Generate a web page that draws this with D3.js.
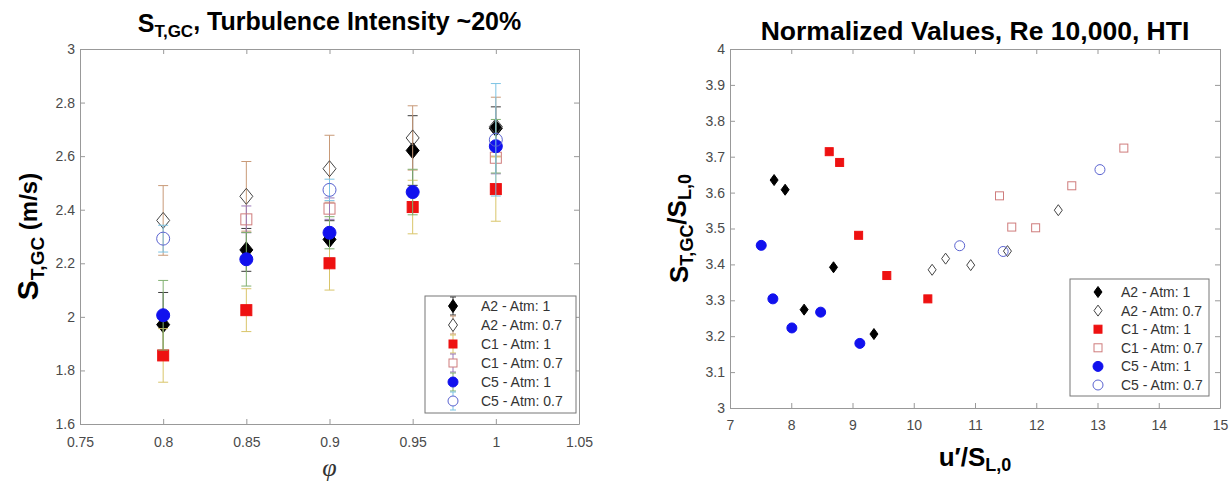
<html>
<script src="https://d3js.org/d3.v7.min.js"></script>
<body style="margin:0;background:#fff;">
<div id="chart"></div>
<script>
// ---- data: left panel (S_T,GC vs phi, with error bars) ----
const phi = [0.8, 0.85, 0.9, 0.95, 1.0];
const seriesNames = ["A2 - Atm: 1", "A2 - Atm: 0.7", "C1 - Atm: 1", "C1 - Atm: 0.7", "C5 - Atm: 1", "C5 - Atm: 0.7"];

const a2Atm1 = [1.971, 2.250, 2.289, 2.621, 2.704];
const a2Atm07 = [2.360, 2.450, 2.553, 2.668, 2.710];
const c1Atm1 = [1.856, 2.025, 2.200, 2.410, 2.477];
const c1Atm07 = [null, 2.364, 2.404, null, 2.594];
const c5Atm1 = [2.006, 2.215, 2.314, 2.466, 2.637];
const c5Atm07 = [2.292, null, 2.474, null, 2.661];

const a2Atm1Err = [0.12, 0.08, 0.07, 0.13, 0.08];
const a2Atm07Err = [0.13, 0.13, 0.125, 0.12, 0.11];
const c1Atm1Err = [0.10, 0.08, 0.10, 0.10, 0.12];
const c1Atm07Err = [null, 0.05, 0.04, null, 0.06];
const c5Atm1Err = [0.13, 0.10, 0.06, 0.085, 0.10];
const c5Atm07Err = [0.05, null, 0.04, null, 0.21];

// ---- data: right panel (normalized) ----
const rA2Atm1X = [7.72, 7.90, 8.21, 8.69, 9.35];
const rA2Atm1Y = [3.635, 3.608, 3.274, 3.392, 3.206];
const rA2Atm07X = [10.30, 10.52, 10.93, 11.53, 12.36];
const rA2Atm07Y = [3.385, 3.416, 3.398, 3.437, 3.551];
const rC1Atm1X = [8.62, 8.79, 9.10, 9.56, 10.23];
const rC1Atm1Y = [3.714, 3.684, 3.481, 3.369, 3.304];
const rC1Atm07X = [11.40, 11.60, 11.99, 12.58, 13.43];
const rC1Atm07Y = [3.591, 3.504, 3.502, 3.619, 3.724];
const rC5Atm1X = [7.51, 7.70, 8.01, 8.48, 9.12];
const rC5Atm1Y = [3.453, 3.304, 3.223, 3.267, 3.180];
const rC5Atm07X = [10.75, 11.46, 13.04];
const rC5Atm07Y = [3.452, 3.436, 3.664];

// tick labels
const leftXTicks = [0.75, 0.8, 0.85, 0.9, 0.95, 1, 1.05];
const leftYTicks = [1.6, 1.8, 2, 2.2, 2.4, 2.6, 2.8, 3];
const rightXTicks = [7, 8, 9, 10, 11, 12, 13, 14, 15];
const rightYTicks = [3, 3.1, 3.2, 3.3, 3.4, 3.5, 3.6, 3.7, 3.8, 3.9, 4];

// marker styles per series (same order as seriesNames)
const styles = [
    {shape: "diamond", fill: "#000", stroke: "#000", bar: "#3a3a3a"},
    {shape: "diamond", fill: "none", stroke: "#444", bar: "#c89a78"},
    {shape: "square", fill: "#ee1111", stroke: "#ee1111", bar: "#d9c56a"},
    {shape: "square", fill: "none", stroke: "#cf7c7c", bar: "#9a78b8"},
    {shape: "circle", fill: "#1111ee", stroke: "#1111ee", bar: "#80b070"},
    {shape: "circle", fill: "none", stroke: "#5a63d0", bar: "#7cc4e4"}
];

const fontMain = "'Liberation Sans', Arial, Helvetica, sans-serif";
const axisColor = "#999";
const tickText = "#4a4a4a";

let svg = d3.select("#chart").append("svg")
    .attr("width", 1232).attr("height", 483)
    .style("font-family", fontMain);

// draw one marker centred at 0,0
function marker(g, shape, w, h, fill, stroke) {
    if (shape === "diamond") {
        g.append("path")
            .attr("d", `M0,${-h / 2}L${w / 2},0L0,${h / 2}L${-w / 2},0Z`)
            .attr("fill", fill).attr("stroke", stroke).attr("stroke-width", 1);
    } else if (shape === "square") {
        g.append("rect")
            .attr("x", -w / 2).attr("y", -w / 2).attr("width", w).attr("height", w)
            .attr("fill", fill).attr("stroke", stroke).attr("stroke-width", 1);
    } else {
        g.append("circle")
            .attr("r", w / 2)
            .attr("fill", fill).attr("stroke", stroke).attr("stroke-width", 1);
    }
}

// frame with inward ticks on all four sides
function frame(f, x, y, xTicks, yTicks, xPad) {
    let fmt = d => String(+d.toFixed(2));
    let g = svg.append("g");
    let style = sel => {
        sel.selectAll("path, line").attr("stroke", axisColor);
        sel.selectAll("text").attr("fill", tickText).style("font-size", "14px").style("font-family", fontMain);
    };
    g.append("g").attr("transform", `translate(0,${f.bottom})`)
        .call(d3.axisBottom(x).tickValues(xTicks).tickFormat(fmt).tickSizeInner(-5).tickSizeOuter(0).tickPadding(xPad))
        .call(style);
    g.append("g").attr("transform", `translate(0,${f.top})`)
        .call(d3.axisTop(x).tickValues(xTicks).tickFormat("").tickSizeInner(-5).tickSizeOuter(0))
        .call(style);
    g.append("g").attr("transform", `translate(${f.left},0)`)
        .call(d3.axisLeft(y).tickValues(yTicks).tickFormat(fmt).tickSizeInner(-5).tickSizeOuter(0).tickPadding(5))
        .call(style);
    g.append("g").attr("transform", `translate(${f.right},0)`)
        .call(d3.axisRight(y).tickValues(yTicks).tickFormat("").tickSizeInner(-5).tickSizeOuter(0))
        .call(style);
    g.selectAll(".domain").attr("stroke", axisColor);
}

function legendBox(box, rowY, rowGap, markerX, textX, withBars, sz) {
    let g = svg.append("g");
    g.append("rect")
        .attr("x", box.x).attr("y", box.y).attr("width", box.w).attr("height", box.h)
        .attr("fill", "#fff").attr("stroke", "#777").attr("stroke-width", 1);
    seriesNames.forEach((name, i) => {
        let cy = rowY + i * rowGap;
        let s = styles[i];
        let m = g.append("g").attr("transform", `translate(${markerX},${cy})`);
        if (withBars) {
            m.append("line").attr("y1", -9).attr("y2", 9).attr("stroke", s.bar);
            m.append("line").attr("x1", -3).attr("x2", 3).attr("y1", -9).attr("y2", -9).attr("stroke", s.bar);
            m.append("line").attr("x1", -3).attr("x2", 3).attr("y1", 9).attr("y2", 9).attr("stroke", s.bar);
        }
        marker(m, s.shape, sz[s.shape][0], sz[s.shape][1], s.fill === "none" ? "#fff" : s.fill, s.stroke);
        g.append("text").attr("x", textX).attr("y", cy + 5)
            .attr("fill", "#333").style("font-size", "14px").text(name);
    });
}

// ================= left panel =================
let fL = {left: 80, right: 579, top: 49, bottom: 424};
let xL = d3.scaleLinear().domain([0.75, 1.05]).range([fL.left, fL.right]);
let yL = d3.scaleLinear().domain([1.6, 3]).range([fL.bottom, fL.top]);
frame(fL, xL, yL, leftXTicks, leftYTicks, 13);

let leftValues = [a2Atm1, a2Atm07, c1Atm1, c1Atm07, c5Atm1, c5Atm07];
let leftErrs = [a2Atm1Err, a2Atm07Err, c1Atm1Err, c1Atm07Err, c5Atm1Err, c5Atm07Err];
let bigSize = {diamond: [13, 16], square: [11, 11], circle: [13, 13]};

leftValues.forEach((vals, si) => {
    let s = styles[si];
    let pts = phi.map((p, i) => ({p: p, v: vals[i], e: leftErrs[si][i]})).filter(d => d.v != null);
    let g = svg.append("g");
    pts.forEach(d => {
        let cx = xL(d.p);
        g.append("line").attr("x1", cx).attr("x2", cx)
            .attr("y1", yL(d.v - d.e)).attr("y2", yL(d.v + d.e)).attr("stroke", s.bar);
        [d.v - d.e, d.v + d.e].forEach(v => {
            g.append("line").attr("x1", cx - 5).attr("x2", cx + 5)
                .attr("y1", yL(v)).attr("y2", yL(v)).attr("stroke", s.bar);
        });
    });
    pts.forEach(d => {
        let m = g.append("g").attr("transform", `translate(${xL(d.p)},${yL(d.v)})`);
        marker(m, s.shape, bigSize[s.shape][0], bigSize[s.shape][1], s.fill, s.stroke);
    });
});

legendBox({x: 425, y: 296, w: 151, h: 117}, 306, 19, 453, 481, true,
    {diamond: [9, 13], square: [8, 8], circle: [10, 10]});

// title
let tL = svg.append("text").attr("x", (fL.left + fL.right) / 2).attr("y", 32)
    .attr("text-anchor", "middle").style("font-size", "25px").style("font-weight", "bold");
tL.append("tspan").text("S");
tL.append("tspan").attr("dy", "0.3em").style("font-size", "17px").text("T,GC");
tL.append("tspan").attr("dy", "-0.3em").text(", Turbulence Intensity ~20%");

// y label
let yl = svg.append("text")
    .attr("transform", `translate(38,${(fL.top + fL.bottom) / 2}) rotate(-90)`)
    .attr("text-anchor", "middle").style("font-size", "24px").style("font-weight", "bold");
yl.append("tspan").style("font-size", "30px").text("S");
yl.append("tspan").attr("dy", "0.3em").style("font-size", "19px").text("T,GC");
yl.append("tspan").attr("dy", "-0.3em").text(" (m/s)");

// x label
svg.append("text").attr("x", (fL.left + fL.right) / 2).attr("y", 476)
    .attr("text-anchor", "middle")
    .style("font-family", "'Liberation Serif', 'DejaVu Serif', serif")
    .style("font-style", "italic").style("font-size", "26px").attr("fill", "#333").text("φ");

// ================= right panel =================
let fR = {left: 730, right: 1220, top: 49, bottom: 408};
let xR = d3.scaleLinear().domain([7, 15]).range([fR.left, fR.right]);
let yR = d3.scaleLinear().domain([3, 4]).range([fR.bottom, fR.top]);
frame(fR, xR, yR, rightXTicks, rightYTicks, 12);

let rightX = [rA2Atm1X, rA2Atm07X, rC1Atm1X, rC1Atm07X, rC5Atm1X, rC5Atm07X];
let rightY = [rA2Atm1Y, rA2Atm07Y, rC1Atm1Y, rC1Atm07Y, rC5Atm1Y, rC5Atm07Y];
let smallSize = {diamond: [8, 11], square: [8, 8], circle: [10, 10]};

rightX.forEach((xs, si) => {
    let s = styles[si];
    let g = svg.append("g");
    xs.forEach((xv, i) => {
        let m = g.append("g").attr("transform", `translate(${xR(xv)},${yR(rightY[si][i])})`);
        marker(m, s.shape, smallSize[s.shape][0], smallSize[s.shape][1], s.fill, s.stroke);
    });
});

legendBox({x: 1070, y: 279, w: 139, h: 117}, 292, 18.6, 1098, 1121, false, smallSize);

// title
svg.append("text").attr("x", (fR.left + fR.right) / 2).attr("y", 40)
    .attr("text-anchor", "middle").style("font-size", "26.5px").style("font-weight", "bold")
    .text("Normalized Values, Re 10,000, HTI");

// y label
let yr = svg.append("text")
    .attr("transform", `translate(688,${(fR.top + fR.bottom) / 2}) rotate(-90)`)
    .attr("text-anchor", "middle").style("font-size", "26px").style("font-weight", "bold");
yr.append("tspan").text("S");
yr.append("tspan").attr("dy", "0.3em").style("font-size", "18px").text("T,GC");
yr.append("tspan").attr("dy", "-0.3em").text("/S");
yr.append("tspan").attr("dy", "0.3em").style("font-size", "18px").text("L,0");

// x label
let xr = svg.append("text").attr("x", (fR.left + fR.right) / 2).attr("y", 466)
    .attr("text-anchor", "middle").style("font-size", "26px").style("font-weight", "bold");
xr.append("tspan").text("u\u2032/S");
xr.append("tspan").attr("dy", "0.3em").style("font-size", "18px").text("L,0");
</script>
</body>
</html>
